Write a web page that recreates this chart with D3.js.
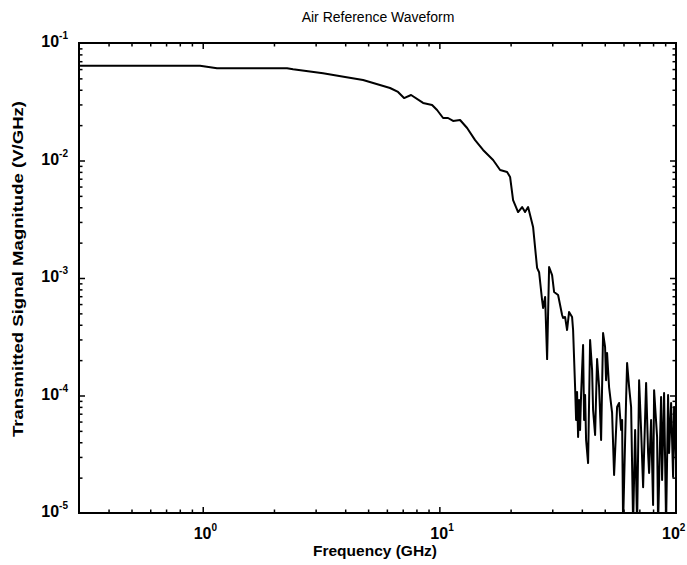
<!DOCTYPE html>
<html>
<head>
<meta charset="utf-8">
<script src="https://cdn.jsdelivr.net/npm/d3@7/dist/d3.min.js"></script>
<style>
  body { margin: 0; background: #fff; }
  text { font-family: "Liberation Sans", Arial, sans-serif; fill: #000; }
</style>
</head>
<body>
<div id="chart"></div>
<script>
// spectrum (GHz, V/GHz)
const freqGHz = [
  0.303, 0.974, 1.149, 2.272, 2.408, 3.225, 3.996, 4.760, 6.188, 6.689,
  7.092, 7.594, 8.534, 9.316, 9.779, 10.37, 10.88, 11.43, 12.23, 13.10,
  14.16, 15.30, 16.87, 18.06, 19.33, 19.90, 20.49, 21.51, 22.37, 23.02,
  23.71, 24.89, 25.88, 26.39, 27.17, 27.44, 27.98, 28.53, 29.09, 29.95,
  30.54, 31.75, 33.01, 33.33, 33.98, 34.65, 35.33,
  36.38, 36.74, 37.46, 37.83, 38.19, 38.57, 38.94, 39.32, 39.71, 40.49,
  40.89, 41.29, 41.69, 42.51, 43.35, 44.20, 44.63, 45.51, 46.40, 47.32,
  48.25, 49.19, 50.15, 50.64, 51.14, 52.14, 53.70, 54.75, 56.37, 57.48,
  58.61, 59.19, 59.76, 61.53, 62.14, 63.37, 64.61, 65.88, 67.18, 68.49,
  69.84, 71.21, 72.61, 74.76, 76.22, 76.97, 78.48, 80.02, 80.80, 83.20,
  84.01, 86.49, 87.34, 89.05, 90.81, 92.59, 93.49, 95.35, 97.21, 98.17,
  99.9
];
const magnitude = [
  0.0641, 0.0641, 0.0609, 0.0609, 0.0597, 0.0552, 0.0514, 0.0484, 0.0414, 0.0383,
  0.0340, 0.0361, 0.0309, 0.0297, 0.0269, 0.0230, 0.0230, 0.0217, 0.0221, 0.0189,
  0.0149, 0.0123, 0.0101, 0.00830, 0.00798, 0.00724, 0.00461, 0.00364, 0.00402, 0.00364,
  0.00402, 0.00272, 0.00122, 0.00112, 0.000650, 0.000556, 0.000689, 0.000204, 0.00124, 0.00106,
  0.000760, 0.000717, 0.000484, 0.000457, 0.000466, 0.000361, 0.000514,
  0.000466, 0.000361, 0.000118, 0.0000619, 0.000107, 0.0000443, 0.0000916, 0.0000509, 0.000101, 0.000269,
  0.0000619, 0.000101, 0.0000418, 0.0000266, 0.000297, 0.000165, 0.0000753, 0.0000461, 0.000204, 0.000118,
  0.0000418, 0.000340, 0.000259, 0.000135, 0.000230, 0.000118, 0.0000710, 0.0000211, 0.0000798, 0.0000864,
  0.0000509, 0.0000619, 0.000008, 0.0000916, 0.000189, 0.000118, 0.0000798, 0.000008, 0.0000509, 0.000008,
  0.000135, 0.0000509, 0.0000166, 0.000128, 0.0000324, 0.0000219, 0.0000619, 0.0000117, 0.000111, 0.0000443,
  0.000008, 0.0000971, 0.0000191, 0.000105, 0.000008, 0.000101, 0.0000324, 0.0000864, 0.0000203, 0.0000798,
  0.0000283
];
const xMajorExps = [0, 1, 2];
const yMajorExps = [-5, -4, -3, -2, -1];
const chartTitle = "Air Reference Waveform";
const xLabel = "Frequency (GHz)";
const yLabel = "Transmitted Signal Magnitude (V/GHz)";

const width = 687, height = 565;
const margin = { top: 43, right: 11, bottom: 52, left: 79 };
const innerW = width - margin.left - margin.right;
const innerH = height - margin.top - margin.bottom;

const svg = d3.select("#chart").append("svg")
    .attr("width", width)
    .attr("height", height);

const x = d3.scaleLog().domain([0.3, 100]).range([margin.left, margin.left + innerW]);
const y = d3.scaleLog().domain([1e-5, 1e-1]).range([margin.top + innerH, margin.top]);

// minor tick values: 2..9 of each decade
function minorTicks(scale) {
    const [lo, hi] = scale.domain();
    const out = [];
    for (let e = Math.floor(Math.log10(lo)); e <= Math.ceil(Math.log10(hi)); e++) {
        for (let k = 2; k <= 9; k++) {
            const v = k * Math.pow(10, e);
            if (v > lo * 1.001 && v < hi * 0.999) out.push(v);
        }
    }
    return out;
}

const xMajor = xMajorExps.map(e => Math.pow(10, e)).filter(v => v < 100);
const yMajor = yMajorExps.map(e => Math.pow(10, e)).filter(v => v > 1e-5 && v < 1e-1);

function addAxis(axisFn, scale, values, size, transform) {
    const g = svg.append("g")
        .attr("transform", transform)
        .call(axisFn(scale).tickValues(values).tickSize(-size).tickSizeOuter(0).tickFormat(() => ""));
    g.select(".domain").remove();
    g.selectAll(".tick line").attr("stroke", "#000").attr("stroke-width", 1.5);
    return g;
}

const bottomY = margin.top + innerH;
const rightX = margin.left + innerW;

addAxis(d3.axisBottom, x, xMajor, 6, `translate(0,${bottomY})`);
addAxis(d3.axisBottom, x, minorTicks(x), 3.5, `translate(0,${bottomY})`);
addAxis(d3.axisTop, x, xMajor, 6, `translate(0,${margin.top})`);
addAxis(d3.axisTop, x, minorTicks(x), 3.5, `translate(0,${margin.top})`);
addAxis(d3.axisLeft, y, yMajor, 6, `translate(${margin.left},0)`);
addAxis(d3.axisLeft, y, minorTicks(y), 3.5, `translate(${margin.left},0)`);
addAxis(d3.axisRight, y, yMajor, 6, `translate(${rightX},0)`);
addAxis(d3.axisRight, y, minorTicks(y), 3.5, `translate(${rightX},0)`);

svg.append("clipPath")
    .attr("id", "plot-clip")
    .append("rect")
    .attr("x", margin.left)
    .attr("y", margin.top)
    .attr("width", innerW)
    .attr("height", innerH);

const pts = freqGHz.map((f, i) => ({ f: f, m: magnitude[i] }));

const line = d3.line()
    .x(d => x(d.f))
    .y(d => y(d.m));

svg.append("path")
    .datum(pts)
    .attr("d", line)
    .attr("fill", "none")
    .attr("stroke", "#000")
    .attr("stroke-width", 2)
    .attr("stroke-linejoin", "round")
    .attr("clip-path", "url(#plot-clip)");

// frame
svg.append("rect")
    .attr("x", margin.left)
    .attr("y", margin.top)
    .attr("width", innerW)
    .attr("height", innerH)
    .attr("fill", "none")
    .attr("stroke", "#000")
    .attr("stroke-width", 2);

// tick labels as 10 with superscript exponent
xMajorExps.forEach(e => {
    const px = Math.min(x(Math.pow(10, e)) - 9, width - 25);
    const t = svg.append("text")
        .attr("x", px)
        .attr("y", bottomY + 26)
        .attr("font-size", 16)
        .attr("font-weight", "bold");
    t.append("tspan").text("10");
    t.append("tspan").attr("dy", -8).attr("font-size", 10).text(e);
});

yMajorExps.forEach(e => {
    const t = svg.append("text")
        .attr("x", margin.left - 11)
        .attr("y", y(Math.pow(10, e)) + 4)
        .attr("text-anchor", "end")
        .attr("font-size", 16)
        .attr("font-weight", "bold");
    t.append("tspan").text("10");
    t.append("tspan").attr("dy", -8).attr("font-size", 10).text(e);
});

svg.append("text")
    .attr("x", 378)
    .attr("y", 22)
    .attr("text-anchor", "middle")
    .attr("font-size", 14)
    .text(chartTitle);

svg.append("text")
    .attr("x", 375)
    .attr("y", 556)
    .attr("text-anchor", "middle")
    .attr("font-size", 15.5)
    .attr("font-weight", "bold")
    .text(xLabel);

svg.append("text")
    .attr("transform", `translate(23,269) rotate(-90)`)
    .attr("text-anchor", "middle")
    .attr("font-size", 14.5)
    .attr("font-weight", "bold")
    .attr("textLength", 336)
    .attr("lengthAdjust", "spacingAndGlyphs")
    .text(yLabel);
</script>
</body>
</html>
